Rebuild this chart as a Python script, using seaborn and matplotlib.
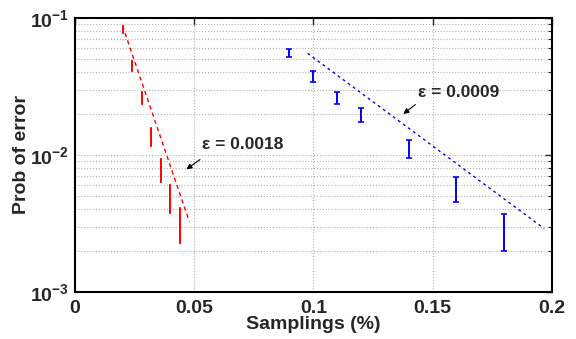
import matplotlib
matplotlib.use("Agg")
import matplotlib.pyplot as plt
import seaborn as sns
import numpy as np
import pandas as pd
from matplotlib.ticker import LogLocator, FixedLocator, NullFormatter

# red series (low sampling)
red_x = [0.020, 0.024, 0.028, 0.032, 0.036, 0.040, 0.044]
red_lo = [0.0778, 0.0410, 0.0236, 0.01164, 0.00636, 0.00378, 0.00228]
red_hi = [0.0875, 0.0486, 0.0288, 0.01574, 0.00935, 0.00604, 0.0041]
red_fit_x = [0.020, 0.048]
red_fit_y = [0.0875, 0.00326]

# blue series
blue_x = [0.09, 0.10, 0.11, 0.12, 0.14, 0.16, 0.18]
blue_lo = [0.0519, 0.0341, 0.0236, 0.0174, 0.0095, 0.00454, 0.00199]
blue_hi = [0.0594, 0.0410, 0.0288, 0.0220, 0.01285, 0.0069, 0.00371]
blue_fit_x = [0.0976, 0.1968]
blue_fit_y = [0.0552, 0.0029]

xticks = [0, 0.05, 0.1, 0.15, 0.2]
xticklabels = ["0", "0.05", "0.1", "0.15", "0.2"]
yticks = [1e-3, 1e-2, 1e-1]
yticklabels = [r"$\mathrm{10^{-3}}$", r"$\mathrm{10^{-2}}$", r"$\mathrm{10^{-1}}$"]

sns.set_style("white")
plt.rcParams['font.family'] = ['Liberation Sans', 'DejaVu Sans']
plt.rcParams['mathtext.fontset'] = 'custom'
plt.rcParams['mathtext.rm'] = 'Liberation Sans:bold'

fig = plt.figure(figsize=(5.76, 3.39), dpi=100)
ax = fig.add_axes([0.130, 0.139, 0.828, 0.808])
ax.set_yscale('log')

def draw_bars(xs, lo, hi, color, cap):
    lo = np.array(lo)
    hi = np.array(hi)
    mid = np.sqrt(lo * hi)
    ax.errorbar(xs, mid, yerr=[mid - lo, hi - mid], fmt='none', ecolor=color,
                elinewidth=1.4, capsize=cap, capthick=1.2, zorder=3)

draw_bars(red_x, red_lo, red_hi, 'red', 1.0)
draw_bars(blue_x, blue_lo, blue_hi, 'blue', 2.0)

red_fit = pd.DataFrame({'x': red_fit_x, 'y': red_fit_y})
blue_fit = pd.DataFrame({'x': blue_fit_x, 'y': blue_fit_y})
sns.lineplot(data=red_fit, x='x', y='y', ax=ax, color='red', lw=1.0,
             dashes=False, linestyle=(0, (3, 2.5)), zorder=4)
sns.lineplot(data=blue_fit, x='x', y='y', ax=ax, color='blue', lw=1.0,
             dashes=False, linestyle=(0, (2, 2.5)), zorder=4)

ax.set_xlim(0, 0.2)
ax.set_ylim(1e-3, 1e-1)

ax.xaxis.set_major_locator(FixedLocator(xticks))
ax.set_xticklabels(xticklabels, fontsize=14, fontweight='bold')
ax.yaxis.set_major_locator(FixedLocator(yticks))
ax.set_yticklabels(yticklabels, fontsize=14)
ax.yaxis.set_minor_locator(LogLocator(base=10, subs=np.arange(2, 10)))
ax.yaxis.set_minor_formatter(NullFormatter())

ax.tick_params(which='both', direction='in', top=True, right=True)
ax.tick_params(axis='x', which='major', length=5, width=1, pad=6)
ax.tick_params(axis='y', which='major', length=5, width=1, pad=4)
ax.tick_params(which='minor', length=3, width=0.8)

ax.grid(True, which='major', axis='x', linestyle=':', color='#b0b0b0', lw=0.8)
ax.grid(True, which='both', axis='y', linestyle=':', color='#b0b0b0', lw=0.8)
for s in ax.spines.values():
    s.set_linewidth(1.5)
    s.set_color('black')

ax.set_xlabel('Samplings (%)', fontsize=14, fontweight='bold', labelpad=-1)
ax.set_ylabel('Prob of error', fontsize=14, fontweight='bold', labelpad=0)

ax.text(0.0534, 0.0120, 'ε = 0.0018', fontsize=12.5, fontweight='bold',
        ha='left', va='center')
ax.annotate('', xy=(0.0458, 0.00764), xytext=(0.0534, 0.0095),
            arrowprops=dict(arrowstyle='-|>', color='black', lw=0.8,
                            mutation_scale=8))
ax.text(0.1437, 0.0288, 'ε = 0.0009', fontsize=12.5, fontweight='bold',
        ha='left', va='center')
ax.annotate('', xy=(0.1368, 0.01935), xytext=(0.1437, 0.0240),
            arrowprops=dict(arrowstyle='-|>', color='black', lw=0.8,
                            mutation_scale=8))

fig.savefig('out.png', dpi=100)
